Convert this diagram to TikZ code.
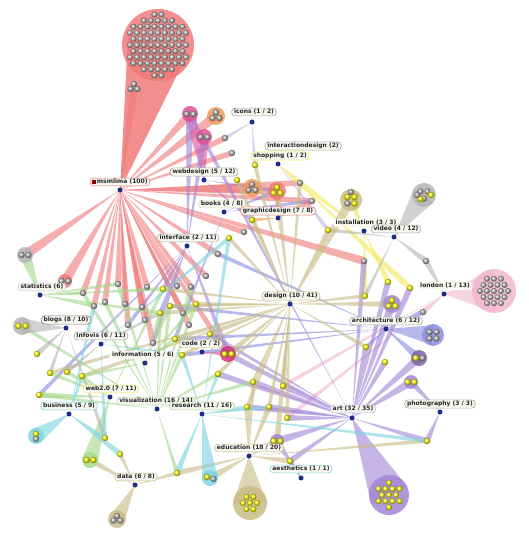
\documentclass[tikz,border=0pt]{standalone}
\usepackage{fontspec}
\setmainfont{DejaVu Sans}
\usetikzlibrary{calc}
\definecolor{cred}{HTML}{F07A7A}
\definecolor{cmag}{HTML}{E0509A}
\definecolor{cpurp}{HTML}{A286D6}
\definecolor{cblue}{HTML}{8A8EE0}
\definecolor{clav}{HTML}{C4B6E4}
\definecolor{cyel}{HTML}{F2EA5C}
\definecolor{ctan}{HTML}{C8BC86}
\definecolor{ccyan}{HTML}{7ED4E2}
\definecolor{cgreen}{HTML}{A6D88C}
\definecolor{cgray}{HTML}{B4B4B4}
\definecolor{cpink}{HTML}{F2B6CE}
\definecolor{corange}{HTML}{F09A5A}
\definecolor{cnavy}{HTML}{1E2C8C}
\definecolor{cfill}{HTML}{F6F8F0}
\newcommand\wg[4][2.5]{\fill[#2] (#3.center) -- ($(#4)!#1pt!90:(#3.center)$) -- ($(#4)!#1pt!-90:(#3.center)$) -- cycle;}
\newcommand\gb[2][0,0]{\shade[ball color=gray!60] ($(#2)+(#1)$) circle (3.2);}
\newcommand\yb[2][0,0]{\shade[ball color=yellow] ($(#2)+(#1)$) circle (3.2);}
\newcommand\halo[3]{\fill[#1,fill opacity=.85] (#2) circle (#3);}
\newcommand\fillballs[3]{%
  \foreach \i in {-5,...,5}{\foreach \j in {-5,...,5}{%
    \pgfmathsetmacro\xx{\j*7+mod(\i+10,2)*3.5}%
    \pgfmathsetmacro\yy{\i*6.1}%
    \pgfmathparse{(\xx*\xx+\yy*\yy)<(#2*#2)?1:0}%
    \ifnum\pgfmathresult=1 \shade[ball color=#3] ($(#1)+(\xx,\yy)$) circle (3);\fi}}}
\begin{document}
\begin{tikzpicture}[x=1pt,y=-1pt,
  tag/.style={draw=#1, line width=.6pt, fill=cfill, rounded corners=3.5pt,
    inner xsep=2.4pt, inner ysep=1.2pt, text=black!85,
    font=\fontsize{6}{6.5}\selectfont\bfseries},
  tag/.default=gray!70,
  hub/.style={circle, fill=cnavy, inner sep=0pt, minimum size=5pt}]
\useasboundingbox (0,0) rectangle (528,534);
% hubs
\foreach \n/\x/\y in {hms/120/190, hic/252/122, hsh/278/164, hwd/204/180, hbk/224/212,
  hgd/278/218, hif/187/246, hin/364/231, hvd/394/237, hld/444/294, hde/290/304,
  hst/40/295, hbl/66/328, hiv/101/344, hinf/145/363, hcd/202/352, hac/386/329,
  hwb/110/397, hbs/69/414, hvz/157/409, hrs/202/414, hed/249/456, hae/301/478,
  hdt/135/485, har/352/418, hph/440/412}
  \coordinate (\n) at (\x,\y);
% items
\foreach \n/\x/\y in {big/158/45, g1/134/89, m1/190/114, m2/204/137, o1/216/116,
  g2/225/138, g3/232/153, y1/255/165, y2/237/180, c1/252/188, c2/277/191,
  g4/300/183, g5/312/201, y3/252/220, g6/244/232, y4/229/238, g7/218/254,
  y5/328/230, c3/351/200, c4/424/195, g8/426/261, g9/364/261, y6/388/282,
  y7/410/288, y8/365/296, c5/392/304, lon/494/291, g10/423/312, c6/433/335,
  y9/366/347, c7/419/358, y10/385/362, c8/411/382, y11/283/386, y12/269/407,
  y13/287/418, y14/427/441, c9/277/441, y15/290/461, ab/389/495, y16/218/374,
  y17/253/382, y18/247/407, y19/177/473, c10/210/478, eb/250/503, y20/50/373,
  y21/67/372, y22/82/376, y23/39/395, c11/36/436, y24/105/438, y25/120/454,
  c12/90/460, db/117/519, c13/25/255, c14/65/281, g11/83/293, g12/94/306,
  g13/105/302, g14/118/284, g15/125/304, g16/128/325, g17/147/287, g18/142/307,
  g19/145/320, g20/153/343, y26/163/289, g21/177/286, g22/191/287, y27/196/304,
  g23/206/276, y28/160/313, y29/170/306, g24/183/313, g25/189/325, y30/175/339,
  y31/210/334, c15/228/354, c16/22/326, y32/37/354, y33/182/355}
  \coordinate (\n) at (\x,\y);
% connectors
\wg[31]{cred!85}{hms}{big}
\begin{scope}[fill opacity=.62]
\foreach \i/\w in {g1/4, m1/4, o1/5, g2/3, g3/3, c1/5, c2/4, g4/3, g5/3, g9/4,
  c13/5, c14/5, g11/3, g12/3, g13/3, g14/3, g15/3, g16/3, g17/3, g18/3, g19/3,
  g20/3, g21/3, g22/3, g23/3, g24/3, g25/3, g7/3, g6/3, c15/3}
  \wg[\w]{cred}{hms}{\i};
\wg[6]{cmag}{hwd}{m1} \wg[5]{cmag}{hwd}{m2} \wg[2]{cpurp}{hwd}{c2} \wg[2]{cpurp}{hwd}{y3}
\foreach \i/\w in {m1/4, m2/3, c15/3, y26/2, g20/2, g16/2}
  \wg[\w]{cpurp}{hif}{\i};
\wg[2]{cblue}{hif}{y28} \wg[2]{cblue}{hif}{y23}
\wg[2]{clav}{hic}{g2} \wg[2]{clav}{hic}{y1}
\wg[3]{cyel}{hsh}{g4} \wg[3]{cyel}{hsh}{y7} \wg[2]{clav}{hsh}{y5}
\wg[2]{cblue}{hbk}{c2} \wg[2]{cblue}{hbk}{g5} \wg[2]{cblue}{hbk}{y30}
\wg[3]{cred}{hgd}{c2} \wg[3]{cred}{hgd}{g5} \wg[2]{corange}{hgd}{y3}
\wg[4]{cyel}{hin}{c3} \wg[3]{cyel}{hin}{y6} \wg[3]{cyel}{hin}{g4} \wg[3]{cyel}{hin}{y8}
\wg[12]{cgray}{hvd}{c4} \wg[3]{cgray}{hvd}{g8} \wg[2]{cgray}{hvd}{y5} \wg[2]{cgray}{hvd}{y8}
\wg[22]{cpink}{hld}{lon} \wg[3]{cgray}{hld}{g8} \wg[3]{cpink}{hld}{g10} \wg[2]{cpink}{hld}{y13} \wg[2]{cpink}{hld}{y11}
\wg[10]{cblue}{hac}{c6}
\foreach \i/\w in {g10/3, c7/4, y29/2, y33/2, y30/2, y9/2, g7/2}
  \wg[\w]{cblue}{hac}{\i};
\wg[20]{cpurp}{har}{ab}
\foreach \i/\w in {g9/3, y6/3, y7/3, c5/4, y9/3, c7/4, y10/3, c8/4, y14/3, c9/4,
  y15/3, y13/3, y12/3, y17/3, y11/3, y16/3, y18/3, c15/3, y31/2, m1/2}
  \wg[\w]{cpurp}{har}{\i};
\wg[3]{cpurp}{hph}{c8} \wg[3]{cpurp}{hph}{y14}
\wg[3]{cpurp}{hae}{c9} \wg[3]{cpurp}{hae}{y15}
\foreach \i/\w in {y1/2, y2/2, y3/2, y4/2, c3/5, y5/2, y26/2, y28/2, y29/2, y27/2,
  y30/2, y31/2, c15/3, y33/2, y8/2, c5/3, y9/2, y11/3, y12/2, y17/2, y16/2, c9/3,
  y20/2, y22/2, g4/2, c2/3, y18/2, y13/2}
  \wg[\w]{ctan}{hde}{\i};
\wg[2]{ctan}{hcd}{y31} \wg[3]{cmag}{hcd}{c15} \wg[2]{ctan}{hcd}{y30}
\wg[17]{ctan}{hed}{eb}
\foreach \i/\w in {c10/4, y19/3, y15/3, c9/4, y12/3, y18/3, y17/2, y14/2}
  \wg[\w]{ctan}{hed}{\i};
\wg[8]{ccyan}{hrs}{c10}
\foreach \i/\w in {y19/3, y4/2, y33/2, y12/2, y14/2, y16/2, y18/2}
  \wg[\w]{ccyan}{hrs}{\i};
\foreach \i/\w in {y19/2, y23/2, g11/2, g13/2, g14/2, y28/2, y27/2, y29/2, c16/2,
  y16/2, y17/2, y33/2, g22/2}
  \wg[\w]{cgreen}{hvz}{\i};
\wg[8]{cgreen}{hwb}{c12}
\foreach \i/\w in {y23/3, y20/2, y21/2, y22/2, y26/2}
  \wg[\w]{cgreen}{hwb}{\i};
\wg[8]{ccyan}{hbs}{c11} \wg[3]{ccyan}{hbs}{y25} \wg[2]{ccyan}{hbs}{y24}
\wg[2]{ccyan}{hbs}{y22} \wg[2]{ccyan}{hbs}{g12}
\wg[8]{cgray}{hbl}{c16} \wg[3]{cgray}{hbl}{y32} \wg[2]{cgray}{hbl}{y20} \wg[2]{cgray}{hbl}{y24}
\wg[2]{cgray}{hiv}{y21} \wg[2]{ccyan}{hiv}{y24} \wg[2]{cgray}{hiv}{y28}
\wg[2]{ccyan}{hiv}{y33} \wg[2]{ccyan}{hiv}{y4}
\foreach \i in {y22, y28, y29, y30, y27}
  \wg[2]{cgreen}{hinf}{\i};
\wg[6]{cgreen}{hst}{c13}
\foreach \i in {g11, g12, g14, y26, y28}
  \wg[2]{cgreen}{hst}{\i};
\wg[8]{ctan}{hdt}{db} \wg[2]{ctan}{hdt}{y25} \wg[2]{ctan}{hdt}{y19} \wg[3]{ctan}{hdt}{c12}
\end{scope}
% balloons and halos
\halo{cred}{big}{36}
\fillballs{big}{31}{gray!60}
\halo{cpink}{lon}{22}
\fillballs{lon}{15}{gray!60}
\halo{cpurp}{ab}{20}
\fillballs{ab}{14}{yellow}
\halo{ctan}{eb}{17}
\fillballs{eb}{12}{yellow}
\halo{ctan}{db}{9}
\gb[-3.4,1.5]{db} \gb[3.4,1.5]{db} \gb[0,-3]{db}
\halo{corange}{c1}{9} \gb[-3.4,2]{c1} \gb[3.4,2]{c1} \gb[0,-3.6]{c1}
\halo{cred}{c2}{9} \yb[-3.4,2]{c2} \yb[3.4,2]{c2} \yb[0,-3.6]{c2}
\halo{corange}{o1}{9} \gb[-3.4,2]{o1} \gb[3.4,2]{o1} \gb[0,-3.6]{o1}
\halo{cmag}{m1}{8} \gb[-3.4,0]{m1} \gb[3.4,0]{m1}
\halo{cmag}{m2}{8} \gb[-3.4,0]{m2} \gb[3.4,0]{m2}
\gb[-3.4,0]{g1} \gb[3.4,0]{g1} \gb[0,-5]{g1}
\halo{ctan}{c3}{11} \yb[-3.5,-3]{c3} \yb[3.5,-3]{c3} \gb[-3.5,3.5]{c3} \yb[3.5,3.5]{c3} \gb[0,-8]{c3}
\halo{cgray}{c4}{12} \gb[-3.5,-3.5]{c4} \gb[3.5,-3.5]{c4} \yb[7,0]{c4} \gb[0,3.5]{c4} \yb[-3.5,4]{c4} \gb[-7,0]{c4}
\halo{cpurp}{c5}{9} \yb[-3.4,2]{c5} \yb[3.4,2]{c5} \yb[0,-3.6]{c5}
\halo{cblue}{c6}{11} \gb[-3.5,-3]{c6} \gb[3.5,-3]{c6} \gb[-3.5,3.5]{c6} \gb[3.5,3.5]{c6}
\halo{cpurp!75!black}{c7}{8} \yb[-3.3,0]{c7} \gb[3.5,0]{c7}
\halo{cpurp}{c8}{7} \yb[-3.4,0]{c8} \yb[3.4,0]{c8}
\halo{cpurp}{c9}{7} \yb[-3.4,0]{c9} \yb[3.4,0]{c9}
\halo{ccyan}{c10}{8} \yb[-3,-1]{c10} \gb[3.5,1]{c10}
\halo{ccyan}{c11}{8} \yb[0,-2]{c11} \gb[0,3]{c11}
\halo{cgreen}{c12}{8} \yb[-3.4,0]{c12} \yb[3.4,0]{c12}
\halo{cgray}{c13}{8} \gb[-3.4,0]{c13} \gb[3.4,0]{c13}
\halo{cred}{c14}{7} \gb[-3.4,0]{c14} \gb[3.4,0]{c14}
\halo{cmag!60!purple}{c15}{8} \yb[-3.4,0]{c15} \yb[3.4,0]{c15}
\halo{cgray}{c16}{9} \yb[-3.6,0]{c16} \yb[3.6,0]{c16}
\foreach \n in {g2,g3,g4,g5,g6,g7,g8,g9,g10,g11,g12,g13,g14,g15,g16,g17,g18,g19,
  g20,g21,g22,g23,g24,g25}
  \gb{\n};
\foreach \n in {y1,y2,y3,y4,y5,y6,y7,y8,y9,y10,y11,y12,y13,y14,y15,y16,y17,y18,
  y19,y20,y21,y22,y23,y24,y25,y26,y27,y28,y29,y30,y31,y32,y33}
  \yb{\n};
% hub dots
\foreach \n in {ms,ic,sh,wd,bk,gd,if,in,vd,ld,de,st,bl,iv,inf,cd,ac,wb,bs,vz,rs,ed,ae,dt,ar,ph}
  \node[hub] (d\n) at (h\n) {};
% labels
\node[tag=cred] (tms) at (120,182) {\textcolor{red!55!black}{\rule{3.5pt}{4pt}}\,msmlima (100)};
\node[tag] (tic) at (254,112) {icons (1 / 2)};
\node[tag] (tid) at (303,146) {interactiondesign (2)};
\node[tag=cyel] (tsh) at (280,156) {shopping (1 / 2)};
\node[tag] (twd) at (204,172) {webdesign (5 / 12)};
\node[tag=ctan!60] (tbk) at (222,204) {books (4 / 8)};
\node[tag=cred] (tgd) at (278,211) {graphicdesign (7 / 8)};
\node[tag] (tif) at (188,238) {interface (2 / 11)};
\node[tag=white] (tin) at (366,223) {installation (3 / 3)};
\node[tag] (tvd) at (396,229) {video (4 / 12)};
\node[tag=white] (tld) at (445,286) {london (1 / 13)};
\node[tag=ctan] (tde) at (291,296) {design (10 / 41)};
\node[tag=gray!40] (tst) at (42,287) {statistics (6)};
\node[tag=gray] (tbl) at (66,320) {blogs (8 / 10)};
\node[tag] (tiv) at (101,336) {infovis (6 / 11)};
\node[tag=white] (tinf) at (143,355) {information (5 / 6)};
\node[tag=ctan] (tcd) at (201,344) {code (2 / 2)};
\node[tag] (tac) at (386,321) {architecture (6 / 12)};
\node[tag=cyel] (twb) at (111,389) {web2.0 (7 / 11)};
\node[tag=ccyan] (tbs) at (69,406) {business (5 / 9)};
\node[tag=cgreen] (tvz) at (156,401) {visualization (16 / 14)};
\node[tag=cgreen] (trs) at (202,406) {research (11 / 16)};
\node[tag=ctan] (ted) at (249,448) {education (18 / 20)};
\node[tag=ccyan] (tae) at (301,469) {aesthetics (1 / 1)};
\node[tag=ctan] (tdt) at (136,477) {data (6 / 8)};
\node[tag=cpurp!60] (tar) at (353,409) {art (32 / 35)};
\node[tag] (tph) at (440,404) {photography (3 / 3)};
\end{tikzpicture}
\end{document}
